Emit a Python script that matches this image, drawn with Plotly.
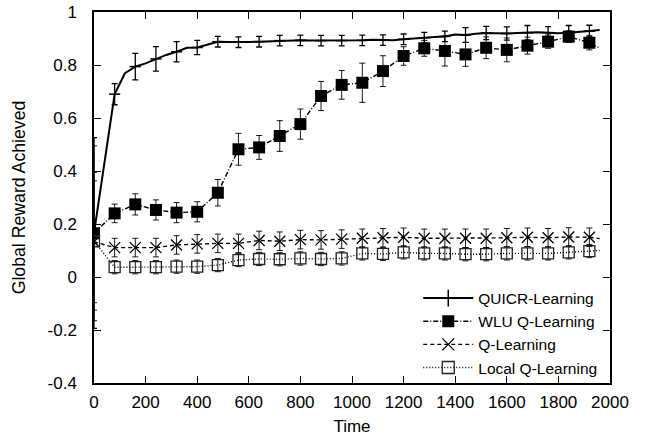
import plotly.graph_objects as go

# ---------------- data ----------------
marker_times = list(range(0, 1921, 80))          # error-bar / marker positions
line_tail_time = 1960

quicr_line_times = [0] + list(range(80, 1961, 40))
quicr_line = [0.166, 0.690, 0.769, 0.794, 0.806, 0.823, 0.838, 0.850, 0.865, 0.866,
              0.876, 0.888, 0.887, 0.886, 0.887, 0.888, 0.889, 0.892, 0.891, 0.893,
              0.892, 0.892, 0.891, 0.892, 0.893, 0.893, 0.895, 0.894, 0.893, 0.897,
              0.899, 0.903, 0.906, 0.908, 0.915, 0.913, 0.918, 0.921, 0.920, 0.919,
              0.921, 0.922, 0.924, 0.922, 0.920, 0.922, 0.924, 0.928, 0.932]
quicr_err = [0.36, 0.040, 0.050, 0.046, 0.038, 0.027, 0.020, 0.020, 0.020, 0.020,
             0.020, 0.020, 0.020, 0.020, 0.020, 0.020, 0.020, 0.020, 0.028, 0.025,
             0.025, 0.027, 0.023, 0.027, 0.022]

wlu_vals = [0.165, 0.240, 0.274, 0.253, 0.243, 0.246, 0.318, 0.482, 0.489, 0.532,
            0.577, 0.683, 0.725, 0.733, 0.777, 0.834, 0.863, 0.853, 0.840, 0.865,
            0.857, 0.873, 0.888, 0.907, 0.884]
wlu_tail = 0.864
wlu_err = [0.33, 0.035, 0.040, 0.038, 0.038, 0.038, 0.050, 0.060, 0.045, 0.058,
           0.057, 0.055, 0.054, 0.074, 0.058, 0.035, 0.030, 0.057, 0.045, 0.041,
           0.045, 0.032, 0.025, 0.022, 0.027]

q_vals = [0.133, 0.111, 0.111, 0.111, 0.121, 0.125, 0.127, 0.127, 0.138, 0.135,
          0.141, 0.140, 0.143, 0.146, 0.148, 0.150, 0.146, 0.146, 0.146, 0.146,
          0.148, 0.150, 0.148, 0.151, 0.150]
q_tail = 0.145
q_err = [0.23] + [0.035] * 24

local_vals = [0.135, 0.037, 0.037, 0.037, 0.039, 0.039, 0.045, 0.064, 0.068, 0.067,
              0.070, 0.068, 0.070, 0.089, 0.087, 0.093, 0.089, 0.089, 0.086, 0.086,
              0.089, 0.089, 0.089, 0.093, 0.098]
local_tail = 0.100
local_err = [0.26] + [0.025] * 24

series_names = ["QUICR-Learning", "WLU Q-Learning", "Q-Learning", "Local Q-Learning"]

x_tick_vals = list(range(0, 2001, 200))
x_tick_labels = [str(v) for v in x_tick_vals]
y_tick_vals = [-0.4, -0.2, 0, 0.2, 0.4, 0.6, 0.8, 1]
y_tick_labels = ["-0.4", "-0.2", "0", "0.2", "0.4", "0.6", "0.8", "1"]

# ---------------- figure ----------------
FONT = "Liberation Sans, Arial, Helvetica, sans-serif"
BLACK = "black"
DASHDOT = "5px,2px,1px,2px"
DASH = "4px,3px"
DOT = "1px,2px"

fig = go.Figure()


def err_cfg(arr, thick=1.0):
    return dict(type="data", array=arr, visible=True, color=BLACK,
                thickness=thick, width=3)


# QUICR: line sampled every 40, error bars every 80
q_marker_idx = [quicr_line_times.index(t) for t in marker_times]
fig.add_trace(go.Scatter(
    x=quicr_line_times, y=quicr_line, mode="lines",
    line=dict(color=BLACK, width=2), showlegend=False, hoverinfo="skip"))
fig.add_trace(go.Scatter(
    x=marker_times, y=[quicr_line[i] for i in q_marker_idx], mode="markers",
    marker=dict(symbol="line-ew", size=8, color=BLACK,
                line=dict(color=BLACK, width=1.5)),
    error_y=err_cfg(quicr_err, 1.3), showlegend=False))

styles = [
    (wlu_vals, wlu_tail, wlu_err, DASHDOT,
     dict(symbol="square", size=12, color=BLACK, line=dict(width=0))),
    (q_vals, q_tail, q_err, DASH,
     dict(symbol="x-thin-open", size=11, color=BLACK, line=dict(color=BLACK, width=1.3))),
    (local_vals, local_tail, local_err, DOT,
     dict(symbol="square-open", size=11, color="#222", line=dict(color="#222", width=1.3))),
]
for vals, tail, err, dash, mk in styles:
    fig.add_trace(go.Scatter(
        x=marker_times + [line_tail_time], y=vals + [tail], mode="lines",
        line=dict(color=BLACK, width=1.4, dash=dash), showlegend=False,
        hoverinfo="skip"))
    fig.add_trace(go.Scatter(
        x=marker_times, y=vals, mode="markers", marker=mk,
        error_y=err_cfg(err, 0.9), showlegend=False))

# legend entries
legend_styles = [
    ("solid", 2, dict(symbol="cross-thin-open", size=12, color=BLACK,
                      line=dict(color=BLACK, width=1.5))),
    (DASHDOT, 1.4, dict(symbol="square", size=12, color=BLACK, line=dict(width=0))),
    (DASH, 1.4, dict(symbol="x-thin-open", size=12, color=BLACK,
                     line=dict(color=BLACK, width=1.3))),
    (DOT, 1.4, dict(symbol="square-open", size=12, color="#222",
                    line=dict(color="#222", width=1.3))),
]
for name, (dash, w, mk) in zip(series_names, legend_styles):
    fig.add_trace(go.Scatter(
        x=[None], y=[None], mode="lines+markers", name=name,
        line=dict(color=BLACK, width=w, dash=dash), marker=mk))

axis_common = dict(
    showline=True, linecolor=BLACK, linewidth=1.5, mirror="ticks",
    ticks="inside", ticklen=7, tickwidth=1.2, tickcolor=BLACK,
    showgrid=False, zeroline=False, automargin=False,
    tickfont=dict(family=FONT, size=17, color=BLACK),
)

fig.update_layout(
    width=647, height=436, autosize=False,
    margin=dict(l=94, r=37, t=12, b=53, pad=0, autoexpand=False),
    paper_bgcolor="white", plot_bgcolor="white",
    font=dict(family=FONT, size=17, color=BLACK),
    xaxis=dict(range=[0, 2000], tickvals=x_tick_vals, ticktext=x_tick_labels,
               ticklabelstandoff=3,
               title=dict(text="Time", font=dict(size=17), standoff=10),
               **axis_common),
    yaxis=dict(range=[-0.4, 1], tickvals=y_tick_vals, ticktext=y_tick_labels,
               ticklabelstandoff=12,
               title=dict(text="Global Reward Achieved", font=dict(size=17.7), standoff=17),
               **axis_common),
    legend=dict(x=0.985, y=-0.004, xanchor="right", yanchor="bottom",
                bgcolor="rgba(0,0,0,0)", font=dict(family=FONT, size=15.5),
                tracegroupgap=0, itemwidth=50),
    showlegend=True,
)

fig.write_html("out.html",
               config={"displayModeBar": False},
               post_script="document.body.style.margin='0';document.body.style.overflow='hidden';")
